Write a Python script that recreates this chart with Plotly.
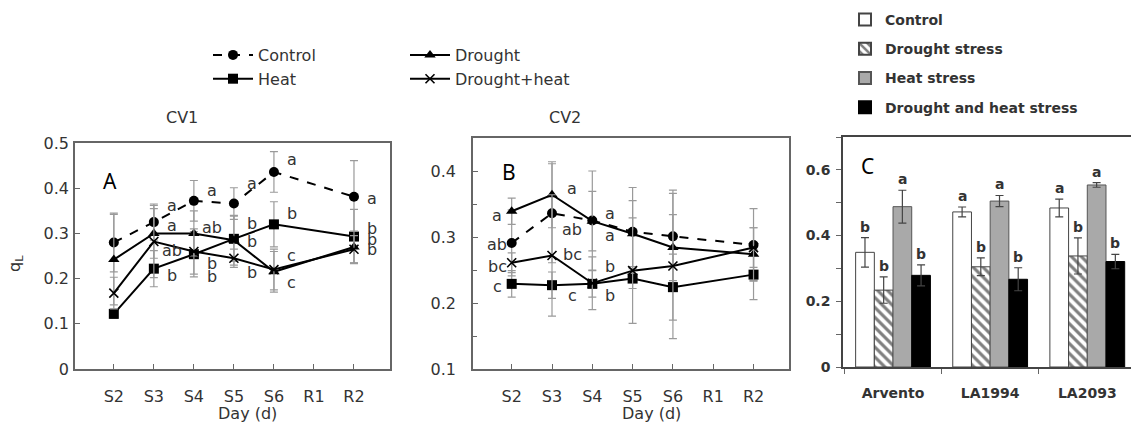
import plotly.graph_objects as go

W, H = 1131, 430

# ---------------- data ----------------
days = ["S2", "S3", "S4", "S5", "S6", "R1", "R2"]
measured_days = ["S2", "S3", "S4", "S5", "S6", "R2"]

# Panel A (CV1)
a_control = [0.280, 0.325, 0.372, 0.366, 0.436, 0.381]
a_control_err = [0.065, 0.040, 0.045, 0.035, 0.045, 0.080]
a_drought = [0.242, 0.300, 0.300, 0.285, 0.215, 0.270]
a_drought_err = [0.100, 0.055, 0.050, 0.055, 0.045, 0.035]
a_heat = [0.122, 0.222, 0.254, 0.288, 0.320, 0.293]
a_heat_err = [0.010, 0.040, 0.050, 0.050, 0.050, 0.060]
a_dh = [0.168, 0.282, 0.260, 0.245, 0.220, 0.265]
a_dh_err = [0.035, 0.080, 0.050, 0.020, 0.045, 0.030]

# Panel B (CV2)
b_control = [0.291, 0.336, 0.325, 0.308, 0.301, 0.288]
b_control_err = [0.050, 0.075, 0.075, 0.067, 0.070, 0.055]
b_drought = [0.339, 0.364, 0.324, 0.305, 0.284, 0.274]
b_drought_err = [0.020, 0.050, 0.045, 0.050, 0.050, 0.040]
b_heat = [0.229, 0.227, 0.229, 0.237, 0.224, 0.243]
b_heat_err = [0.020, 0.020, 0.020, 0.015, 0.050, 0.038]
b_dh = [0.261, 0.272, 0.230, 0.249, 0.256, 0.284]
b_dh_err = [0.015, 0.092, 0.040, 0.080, 0.110, 0.030]

# Significance letters (per day, labelled points)
a_letter_days = ["S3", "S4", "S5", "S6", "R2"]
a_letters = [["a", "a", "ab", "b"], ["a", "ab", "b", "b"], ["a", "b", "b", "b"],
             ["a", "b", "c", "c"], ["a", "b", "b", "b"]]
a_letter_y = [[0.362, 0.318, 0.262, 0.206], [0.396, 0.312, 0.234, 0.204],
              [0.410, 0.321, 0.281, 0.214], [0.463, 0.344, 0.251, 0.192],
              [0.377, 0.310, 0.287, 0.265]]
b_letter_days = ["S2", "S3", "S4"]
b_letters = [["a", "ab", "bc", "c"], ["a", "ab", "bc", "c"], ["a", "a", "b", "b"]]
b_letter_y = [[0.333, 0.288, 0.256, 0.225], [0.374, 0.311, 0.273, 0.212],
              [0.336, 0.303, 0.255, 0.212]]

# Panel C
cultivars = ["Arvento", "LA1994", "LA2093"]
c_control = [0.349, 0.472, 0.484]
c_control_err = [0.045, 0.015, 0.027]
c_drought = [0.234, 0.305, 0.338]
c_drought_err = [0.040, 0.027, 0.055]
c_heat = [0.488, 0.505, 0.554]
c_heat_err = [0.050, 0.017, 0.007]
c_dh = [0.279, 0.267, 0.321]
c_dh_err = [0.032, 0.035, 0.022]
c_letters = [["b", "b", "a", "b"], ["a", "b", "a", "b"], ["a", "b", "a", "b"]]

# ---------------- figure ----------------
FONT = "DejaVu Sans"
TXT = "#333333"
AX = "#666666"
EBAR = "#9a9a9a"

xpos = [days.index(d) for d in measured_days]

fig = go.Figure()

line_series = [
    ("Control", "circle", "dash", "legend", 10),
    ("Heat", "square", "solid", "legend", 10),
    ("Drought", "triangle-up", "solid", "legend2", 10),
    ("Drought+heat", "x-thin", "solid", "legend2", 9),
]
a_vals = {"Control": (a_control, a_control_err), "Heat": (a_heat, a_heat_err),
          "Drought": (a_drought, a_drought_err), "Drought+heat": (a_dh, a_dh_err)}
b_vals = {"Control": (b_control, b_control_err), "Heat": (b_heat, b_heat_err),
          "Drought": (b_drought, b_drought_err), "Drought+heat": (b_dh, b_dh_err)}

for panel, vals, xa, ya in [("A", a_vals, "x", "y"), ("B", b_vals, "x2", "y2")]:
    for name, sym, dash, leg, msize in line_series:
        v, e = vals[name]
        fig.add_trace(go.Scatter(
            x=xpos, y=v, name=name, mode="lines+markers",
            line=dict(color="black", width=2, dash=dash),
            marker=dict(symbol=sym, size=msize, color="black",
                        line=dict(color="black", width=1.6 if sym == "x-thin" else 0)),
            error_y=dict(type="data", array=e, visible=True, color=EBAR,
                         thickness=1.2, width=4),
            xaxis=xa, yaxis=ya, legend=leg, showlegend=(panel == "A"),
        ))

# Panel C bars
bar_series = [
    ("Control", c_control, c_control_err, dict(color="white", line=dict(color="#444", width=1))),
    ("Drought stress", c_drought, c_drought_err,
     dict(color="white", line=dict(color="#444", width=1),
          pattern=dict(shape="\\", fgcolor="black", bgcolor="white", size=7, solidity=0.45))),
    ("Heat stress", c_heat, c_heat_err, dict(color="#a9a9a9", line=dict(color="#555", width=1))),
    ("Drought and heat stress", c_dh, c_dh_err, dict(color="black", line=dict(color="black", width=1))),
]
for i, (name, v, e, mk) in enumerate(bar_series):
    fig.add_trace(go.Bar(
        x=list(range(len(cultivars))), y=v, name=name, marker=mk,
        error_y=dict(type="data", array=e, visible=True, color="#444", thickness=1.2, width=4),
        xaxis="x3", yaxis="y3", legend="legend3", legendgroup=name,
    ))

bargap = 0.23
nb = len(bar_series)
bw = (1 - bargap) / nb

annotations = []
# letters A
for d, labs, ys in zip(a_letter_days, a_letters, a_letter_y):
    for lab, yv in zip(labs, ys):
        annotations.append(dict(x=days.index(d) + 0.45, y=yv, text=lab, xref="x", yref="y",
                                xanchor="center", yanchor="middle",
                                showarrow=False, font=dict(family=FONT, size=16, color=TXT)))
# letters B
b_off = {"S2": -0.36, "S3": 0.5, "S4": 0.44}
for d, labs, ys in zip(b_letter_days, b_letters, b_letter_y):
    for lab, yv in zip(labs, ys):
        annotations.append(dict(x=days.index(d) + b_off[d], y=yv, text=lab, xref="x2", yref="y2",
                                xanchor="center", yanchor="middle",
                                showarrow=False, font=dict(family=FONT, size=16, color=TXT)))
# letters C
series_vals = [(c_control, c_control_err), (c_drought, c_drought_err),
               (c_heat, c_heat_err), (c_dh, c_dh_err)]
for ci in range(len(cultivars)):
    for j, (v, e) in enumerate(series_vals):
        annotations.append(dict(x=ci + (j - (nb - 1) / 2) * bw, y=v[ci] + e[ci], text=c_letters[ci][j],
                                xref="x3", yref="y3", xanchor="center", yanchor="bottom", yshift=1,
                                showarrow=False,
                                font=dict(family=FONT, size=14, color=TXT, weight="bold")))

def px(xp):
    return xp / W

def py(yp):
    return 1 - yp / H

def paper_text(x, y, text, size=16, family=FONT, color=TXT, **kw):
    return dict(x=px(x), y=py(y), text=text, xref="paper", yref="paper", showarrow=False,
                xanchor="center", yanchor="middle", font=dict(family=family, size=size, color=color), **kw)

annotations += [
    paper_text(182, 118, "CV1"),
    paper_text(565, 118, "CV2"),
    paper_text(247, 413, "Day (d)"),
    paper_text(651, 413, "Day (d)"),
    paper_text(15, 264, "q<sub>L</sub>", textangle=-90),
    paper_text(110, 181, "A", size=21, family="Noto Sans", color="black"),
    paper_text(509, 172, "B", size=21, family="Noto Sans", color="black"),
    paper_text(867, 166, "C", size=21, family="Noto Sans", color="black"),
]

line_axis = dict(showline=True, mirror=True, linecolor=AX, linewidth=1.5, showgrid=False,
                 zeroline=False, ticks="inside", ticklen=5, tickcolor=AX,
                 tickfont=dict(family=FONT, size=16, color=TXT))

fig.update_layout(
    width=W, height=H, margin=dict(l=0, r=0, t=0, b=0, autoexpand=False),
    paper_bgcolor="white", plot_bgcolor="white",
    showlegend=True, barmode="group", bargap=bargap, bargroupgap=0,
    xaxis=dict(domain=[px(75), px(390)], range=[-0.97, 6.9], tickvals=list(range(len(days))),
               ticktext=days, ticklabelstandoff=12, anchor="y", **line_axis),
    yaxis=dict(domain=[py(369), py(143)], range=[0, 0.5], tickvals=[0, 0.1, 0.2, 0.3, 0.4, 0.5],
               ticklabelstandoff=1, anchor="x", **line_axis),
    xaxis2=dict(domain=[px(473), px(789)], range=[-0.96, 6.88], tickvals=list(range(len(days))),
                ticktext=days, ticklabelstandoff=12, anchor="y2", **line_axis),
    yaxis2=dict(domain=[py(369), py(138)], range=[0.1, 0.45], tickvals=[0.1, 0.2, 0.3, 0.4],
                ticklabelstandoff=12, anchor="x2",
                minor=dict(ticks="inside", ticklen=4, tickcolor=AX, tick0=0.05, dtick=0.1),
                **line_axis),
    xaxis3=dict(domain=[px(843), 1.0], range=[-0.515, 2.45], tickvals=[0, 1, 2], ticktext=cultivars,
                showline=True, mirror=True, linecolor="#444", linewidth=1.5, showgrid=False,
                zeroline=False, ticks="", ticklabelstandoff=12, anchor="y3",
                minor=dict(ticks="outside", ticklen=5, tickcolor="#666", tick0=0.5, dtick=1),
                tickfont=dict(family=FONT, size=14, color=TXT, weight="bold")),
    yaxis3=dict(domain=[py(367), py(137)], range=[0, 0.7], tickvals=[0, 0.2, 0.4, 0.6],
                showline=True, mirror=True, linecolor="#444", linewidth=1.5, showgrid=False,
                zeroline=False, ticks="outside", ticklen=5, tickcolor="#666", ticklabelstandoff=3,
                anchor="x3",
                minor=dict(ticks="outside", ticklen=5, tickcolor="#666", tick0=0.1, dtick=0.2),
                tickfont=dict(family=FONT, size=14, color=TXT, weight="bold")),
    legend=dict(x=px(208), y=py(38), xanchor="left", yanchor="top", bgcolor="rgba(0,0,0,0)",
                font=dict(family=FONT, size=16, color=TXT), itemwidth=40, tracegroupgap=0),
    legend2=dict(x=px(405), y=py(38), xanchor="left", yanchor="top", bgcolor="rgba(0,0,0,0)",
                 font=dict(family=FONT, size=16, color=TXT), itemwidth=40, tracegroupgap=0),
    legend3=dict(x=px(845), y=py(4), xanchor="left", yanchor="top", bgcolor="rgba(0,0,0,0)",
                 font=dict(family=FONT, size=14, color=TXT, weight="bold"), itemwidth=30,
                 tracegroupgap=8, itemsizing="constant"),
    annotations=annotations,
)

fig.write_html("out.html")
